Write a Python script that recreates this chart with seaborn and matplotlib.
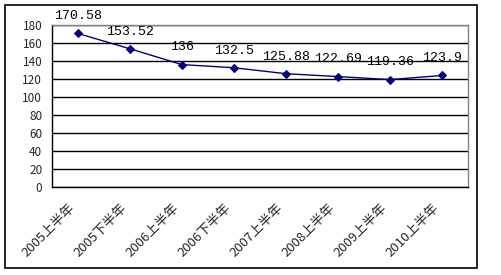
import matplotlib
matplotlib.use("Agg")
import matplotlib.pyplot as plt
import matplotlib.transforms as mtransforms
import seaborn as sns
import pandas as pd
from matplotlib.patches import Rectangle

categories = ["2005上半年", "2005下半年", "2006上半年", "2006下半年",
              "2007上半年", "2008上半年", "2009上半年", "2010上半年"]
values = [170.58, 153.52, 136, 132.5, 125.88, 122.69, 119.36, 123.9]
value_labels = ["170.58", "153.52", "136", "132.5", "125.88", "122.69", "119.36", "123.9"]
y_ticks = [0, 20, 40, 60, 80, 100, 120, 140, 160, 180]

sns.set_style("white")
plt.rcParams['font.family'] = ['Noto Sans CJK SC', 'DejaVu Sans']

df = pd.DataFrame({"cat": categories, "val": values, "x": range(len(categories))})

fig = plt.figure(figsize=(5.01, 2.75), dpi=100)
ax = fig.add_axes([52/501, 1 - 187/275, (468-52)/501, (187-25)/275])

sns.lineplot(data=df, x="x", y="val", ax=ax, color="#000080", linewidth=1,
             marker="D", markersize=4.5, markeredgecolor="#000080")

ax.set_xlim(-0.5, len(categories) - 0.5)
ax.set_ylim(0, 180)
ax.set_yticks(y_ticks)
ax.set_yticklabels([str(t) for t in y_ticks], fontsize=8.5)
ax.yaxis.grid(True, color="black", linewidth=1)
ax.tick_params(axis="y", length=0, pad=7)

# category ticks at boundaries
ax.set_xticks([i + 0.5 for i in range(len(categories) - 1)], minor=False)
ax.set_xticklabels([])
ax.tick_params(axis="x", which="major", direction="in", length=4, color="black", width=1)
ax.set_xticks(list(range(len(categories))), minor=True)
ax.set_xticklabels(categories, minor=True, rotation=45, ha="right",
                   rotation_mode="anchor", fontsize=9.5)
ax.tick_params(axis="x", which="minor", length=0, pad=12)
shift = mtransforms.ScaledTranslation(-10/100, 2/100, fig.dpi_scale_trans)
for lbl in ax.get_xticklabels(minor=True):
    lbl.set_transform(lbl.get_transform() + shift)
ax.set_xlabel("")
ax.set_ylabel("")

for s in ["left", "bottom"]:
    ax.spines[s].set_color("black")
    ax.spines[s].set_linewidth(1)
for s in ["top", "right"]:
    ax.spines[s].set_color("#808080")
    ax.spines[s].set_linewidth(1)
    ax.spines[s].set_visible(True)

for xi, v, lab in zip(df["x"], values, value_labels):
    ax.annotate(lab, (xi, v), xytext=(0, 8), textcoords="offset points",
                ha="center", va="bottom", fontsize=9.5, color="black",
                family=["Liberation Mono", "DejaVu Sans"],
                annotation_clip=False)

fig.patches.append(Rectangle((5/501, 1 - 268/275), (477-5)/501, (268-5)/275,
                             transform=fig.transFigure, fill=False,
                             edgecolor="black", linewidth=1.2))

fig.savefig("out.png", dpi=100)
